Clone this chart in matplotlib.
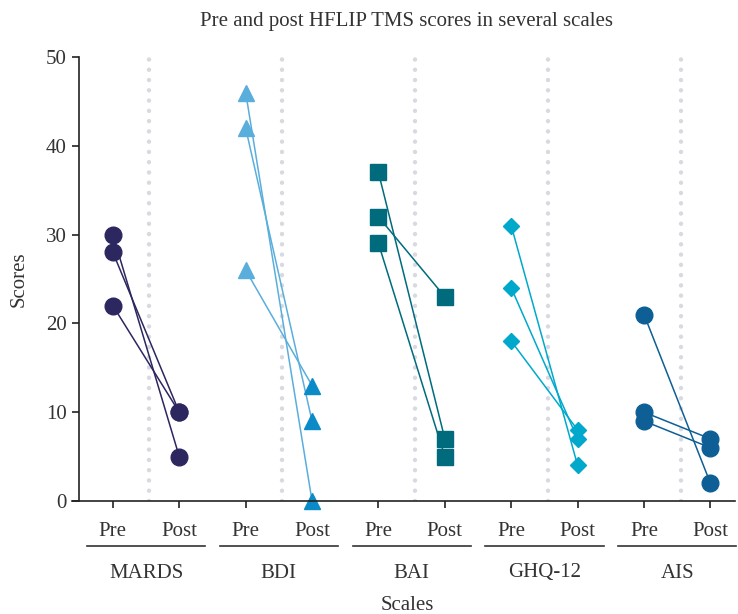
import matplotlib
matplotlib.use('Agg')
import matplotlib.pyplot as plt
from matplotlib.lines import Line2D
import matplotlib.transforms as mtransforms

# Scores (3 patients per scale)
scales = ['MARDS', 'BDI', 'BAI', 'GHQ-12', 'AIS']
phases = ['Pre', 'Post']

mards_pre = [30, 28, 22]
mards_post = [5, 10, 10]
bdi_pre = [46, 42, 26]
bdi_post = [0, 9, 13]
bai_pre = [37, 32, 29]
bai_post = [7, 23, 5]
ghq_pre = [31, 24, 18]
ghq_post = [4, 7, 8]
ais_pre = [21, 10, 9]
ais_post = [2, 7, 6]

pre_scores = [mards_pre, bdi_pre, bai_pre, ghq_pre, ais_pre]
post_scores = [mards_post, bdi_post, bai_post, ghq_post, ais_post]

# styling per scale: (pre colour, post colour, line colour, marker, size)
styles = [
    ('#2c275f', '#2c275f', '#2c275f', 'o', 12),
    ('#5aaedc', '#0a8ac6', '#5aaedc', '^', 11.5),
    ('#006b7c', '#006b7c', '#006b7c', 's', 11),
    ('#00a9cc', '#00a9cc', '#00a9cc', 'D', 8.5),
    ('#0d5f96', '#0d5f96', '#0d5f96', 'o', 12),
]

plt.rcParams['font.family'] = ['Liberation Serif', 'DejaVu Serif']
text_color = '#333333'
fs = 15

fig = plt.figure(figsize=(7.38, 6.14), dpi=100)
ax = fig.add_axes([79 / 738, 1 - 501 / 614, (735 - 79) / 738, (501 - 57) / 614])

for i, scale in enumerate(scales):
    x_pre, x_post = 2 * i, 2 * i + 1
    c_pre, c_post, c_line, mk, ms = styles[i]
    # dotted separator in the middle of each pair
    ax.plot([x_pre + 0.55, x_pre + 0.55], [0, 50], color='#d9d9e1', lw=3.2,
            linestyle=(0, (0.01, 2.3)), dash_capstyle='round', zorder=1)
    for a, b in zip(pre_scores[i], post_scores[i]):
        ax.plot([x_pre, x_post], [a, b], color=c_line, lw=1.1, zorder=2)
    ax.plot([x_pre] * len(pre_scores[i]), pre_scores[i], linestyle='none',
            marker=mk, ms=ms, color=c_pre, mec=c_pre, zorder=3, clip_on=False)
    ax.plot([x_post] * len(post_scores[i]), post_scores[i], linestyle='none',
            marker=mk, ms=ms, color=c_post, mec=c_post, zorder=3, clip_on=False)

ax.set_xlim(-0.51, 9.37)
ax.set_ylim(0, 50)
ax.set_yticks(range(0, 51, 10))
ax.tick_params(axis='y', labelsize=fs, length=5, width=1.2, colors='#222222',
               labelcolor=text_color, pad=4)
ax.set_xticks(range(len(scales) * 2))
ax.set_xticklabels(phases * len(scales))
ax.tick_params(axis='x', labelsize=fs, length=5, width=1.2, colors='#222222',
               labelcolor=text_color, pad=10)

for side in ['top', 'right', 'bottom']:
    ax.spines[side].set_visible(False)
ax.spines['left'].set_linewidth(1.2)
ax.spines['left'].set_color('#222222')

# x axis line starting a little left of the y spine
ax.add_line(Line2D([-0.62, 9.37], [0, 0], color='#222222', lw=1.2,
                   clip_on=False, zorder=4))

# group underlines and group names below the Pre/Post labels
trans = mtransforms.blended_transform_factory(ax.transData, ax.transAxes)
px = 1 / 444
for i, scale in enumerate(scales):
    mid = 2 * i + 0.5
    ax.add_line(Line2D([mid - 0.89, mid + 0.89], [-45 * px, -45 * px],
                       transform=trans, color='#333333', lw=1.2, clip_on=False))
    ax.text(mid, -72 * px, scale, transform=trans, ha='center', va='center',
            fontsize=fs, color=text_color)

ax.text(0.5, -104 * px, 'Scales', transform=ax.transAxes, ha='center',
        va='center', fontsize=fs, color=text_color)
ax.set_ylabel('Scores', fontsize=fs, color=text_color, labelpad=12)
ax.set_title('Pre and post HFLIP TMS scores in several scales', fontsize=15,
             color=text_color, pad=22)

fig.savefig('out.png', dpi=100)
